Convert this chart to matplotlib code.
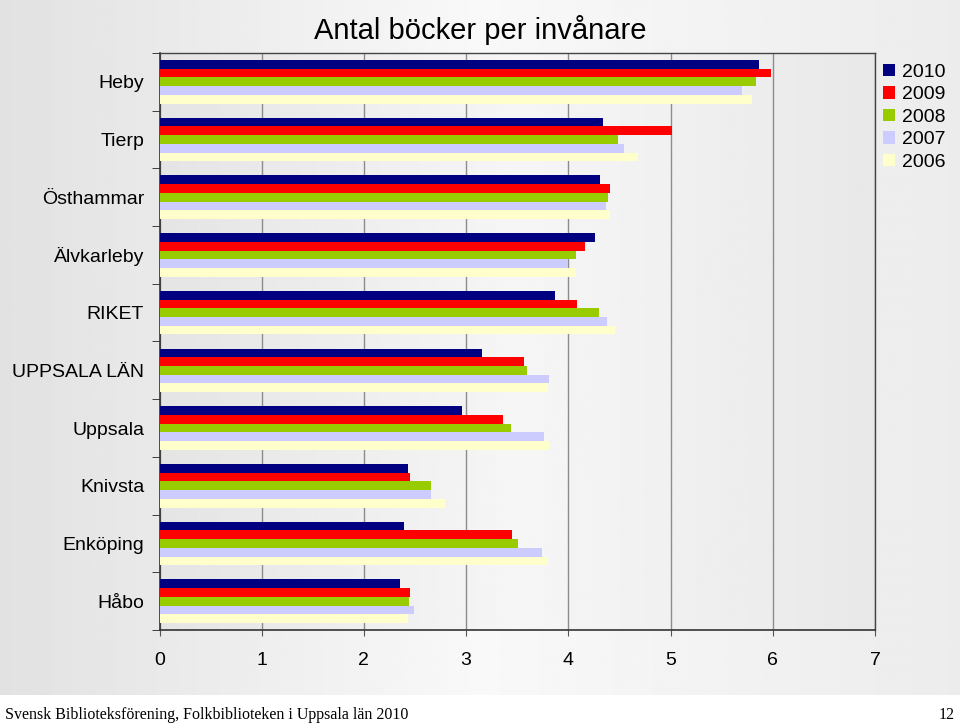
import numpy as np
import matplotlib
matplotlib.use("Agg")
import matplotlib.pyplot as plt

categories = ["Heby", "Tierp", "Östhammar", "Älvkarleby", "RIKET", "UPPSALA LÄN",
              "Uppsala", "Knivsta", "Enköping", "Håbo"]
years = ["2010", "2009", "2008", "2007", "2006"]
v2010 = [5.87, 4.34, 4.31, 4.26, 3.87, 3.16, 2.96, 2.43, 2.39, 2.35]
v2009 = [5.98, 5.01, 4.41, 4.16, 4.08, 3.57, 3.36, 2.45, 3.45, 2.45]
v2008 = [5.84, 4.49, 4.39, 4.07, 4.30, 3.60, 3.44, 2.66, 3.51, 2.44]
v2007 = [5.70, 4.54, 4.37, 4.00, 4.38, 3.81, 3.76, 2.66, 3.74, 2.49]
v2006 = [5.80, 4.68, 4.41, 4.07, 4.46, 3.80, 3.81, 2.79, 3.80, 2.43]
series = [v2010, v2009, v2008, v2007, v2006]
colors = ["#000080", "#ff0000", "#99cc00", "#ccccff", "#ffffcc"]
xticks = [0, 1, 2, 3, 4, 5, 6, 7]

title = "Antal böcker per invånare"
footer_left = "Svensk Biblioteksförening, Folkbiblioteken i Uppsala län 2010"
footer_right = "12"

W, H = 960, 725
fig = plt.figure(figsize=(W / 100, H / 100), dpi=100)
fig.patch.set_facecolor("white")

# figure background gradient (gray area above footer)
bg = fig.add_axes([0, 30 / H, 1, 1 - 30 / H])
bg.set_zorder(-5)
gx = np.linspace(0, 1, 400)
gvals = np.interp(gx, [0, 0.5, 1], [0.885, 0.975, 0.925])
bg.imshow(np.tile(gvals, (2, 1)), cmap="gray", vmin=0, vmax=1, aspect="auto",
          extent=[0, 1, 0, 1], interpolation="bilinear")
bg.set_xlim(0, 1); bg.set_ylim(0, 1)
bg.axis("off")

left, right, top, bottom = 159.5, 875, 53, 630
ax = fig.add_axes([left / W, 1 - bottom / H, (right - left) / W, (bottom - top) / H])
ax.set_facecolor("none")

# plot-area gradient
pvals = np.interp(gx, [0, 0.5, 1], [0.895, 0.965, 0.91])
ax.imshow(np.tile(pvals, (2, 1)), cmap="gray", vmin=0, vmax=1, aspect="auto",
          extent=[0, 1, 0, 1], transform=ax.transAxes, interpolation="bilinear", zorder=0)

n = len(categories)
y = np.arange(n)
bh = 0.151
for k, (vals, c, lab) in enumerate(zip(series, colors, years)):
    ax.barh(y - 2 * bh + k * bh, vals, height=bh, color=c, label=lab,
            linewidth=0, zorder=3)

ax.set_xlim(0, 7)
ax.set_ylim(n - 0.5, -0.5)
ax.set_xticks(xticks)
ax.set_xticklabels([str(t) for t in xticks], family="Liberation Sans", fontsize=14)
ax.xaxis.grid(True, color="#8c8c8c", linewidth=1.0, zorder=1)
ax.set_axisbelow(True)
ax.tick_params(axis="x", direction="out", length=4, pad=12, color="#555555")

ax.set_yticks(y)
ax.set_yticklabels(categories, family="Liberation Sans", fontsize=14)
ax.set_yticks(np.arange(-0.5, n, 1.0), minor=True)
ax.tick_params(axis="y", which="major", length=0, pad=11)
ax.tick_params(axis="y", which="minor", length=6, direction="out", color="#222222")

for s in ["left", "bottom"]:
    ax.spines[s].set_color("#333333")
    ax.spines[s].set_linewidth(1.2)
for s in ["top", "right"]:
    ax.spines[s].set_color("#444444")
    ax.spines[s].set_linewidth(1.0)

fig.text(480 / W, 1 - 30 / H, title, ha="center", va="center",
         family="Liberation Sans", fontsize=21)

leg = ax.legend(loc="upper left", bbox_to_anchor=(883 / W, 1 - 64 / H),
                bbox_transform=fig.transFigure, frameon=False,
                prop={"family": "Liberation Sans", "size": 14},
                handlelength=0.6, handleheight=0.6, handletextpad=0.4,
                labelspacing=0.28, borderaxespad=0, borderpad=0)

fig.text(5 / W, 1 - 715 / H, footer_left, ha="left", va="center",
         family="Liberation Serif", fontsize=11.5)
fig.text(955 / W, 1 - 715 / H, footer_right, ha="right", va="center",
         family="Liberation Serif", fontsize=11.5)

fig.savefig("out.png", dpi=100)
